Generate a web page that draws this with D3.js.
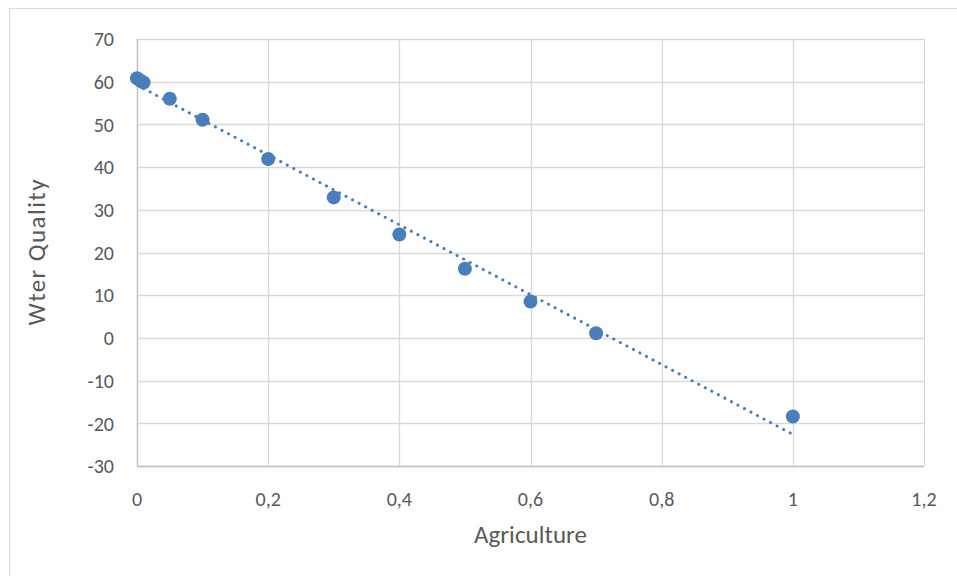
<!DOCTYPE html>
<html>
<head>
<meta charset="utf-8">
<script src="https://cdn.jsdelivr.net/npm/d3@7"></script>
<style>
  html, body { margin: 0; padding: 0; background: #fff; }
  svg { display: block; }
  text { font-family: Carlito, Calibri, Lato, "Open Sans", "Liberation Sans", sans-serif; fill: #595959; }
</style>
</head>
<body>
<svg id="chart" width="957" height="576"></svg>
<script>
const agriculture = [0, 0.005, 0.01, 0.05, 0.1, 0.2, 0.3, 0.4, 0.5, 0.6, 0.7, 1];
const waterQuality = [60.8, 60.3, 59.8, 56.0, 51.1, 41.9, 32.9, 24.2, 16.2, 8.5, 1.1, -18.4];
const xTicks = [0, 0.2, 0.4, 0.6, 0.8, 1, 1.2];
const yTicks = [-30, -20, -10, 0, 10, 20, 30, 40, 50, 60, 70];
const xTitle = "Agriculture";
const yTitle = "Wter Quality";

(function () {
const svg = d3.select("#chart");
const W = 957, H = 576;
const pL = 137, pR = 924, pT = 39, pB = 466;

// outer chart border
svg.append("rect").attr("x", 9.5).attr("y", 8.5).attr("width", W + 10).attr("height", H + 10)
  .attr("fill", "#fff").attr("stroke", "#d9d9d9").attr("stroke-width", 1);

const x = d3.scaleLinear().domain([0, 1.2]).range([pL, pR]);
const y = d3.scaleLinear().domain([-30, 70]).range([pB, pT]);

const fmt = d => String(+d.toFixed(1)).replace(".", ",");

// gridlines
const g = svg.append("g");
g.selectAll(".hg").data(yTicks).join("line")
  .attr("x1", pL).attr("x2", pR)
  .attr("y1", d => Math.round(y(d)) + 0.5).attr("y2", d => Math.round(y(d)) + 0.5)
  .attr("stroke", "#d9d9d9").attr("stroke-width", 1.3);
g.selectAll(".vg").data(xTicks).join("line")
  .attr("y1", pT).attr("y2", pB)
  .attr("x1", d => Math.round(x(d)) + 0.5).attr("x2", d => Math.round(x(d)) + 0.5)
  .attr("stroke", "#d9d9d9").attr("stroke-width", 1.3);
// axis lines
svg.append("line").attr("x1", pL + 0.5).attr("x2", pL + 0.5).attr("y1", pT).attr("y2", pB + 0.5)
  .attr("stroke", "#bfbfbf").attr("stroke-width", 1.3);
svg.append("line").attr("x1", pL).attr("x2", pR).attr("y1", Math.round(y(-30)) + 0.5).attr("y2", Math.round(y(-30)) + 0.5)
  .attr("stroke", "#bfbfbf").attr("stroke-width", 1.3);

// tick labels
svg.selectAll(".yl").data(yTicks).join("text")
  .attr("x", 114).attr("y", d => y(d)).attr("dy", "0.36em")
  .attr("text-anchor", "end").attr("font-size", 20).text(d => d);
svg.selectAll(".xl").data(xTicks).join("text")
  .attr("x", d => x(d)).attr("y", 506)
  .attr("text-anchor", "middle").attr("font-size", 20).text(fmt);

// axis titles
svg.append("text").attr("x", (pL + pR) / 2).attr("y", 543)
  .attr("text-anchor", "middle").attr("font-size", 25)
  .attr("textLength", 113).attr("lengthAdjust", "spacing").text(xTitle);
svg.append("text").attr("transform", `translate(45,${(pT + pB) / 2}) rotate(-90)`)
  .attr("text-anchor", "middle").attr("font-size", 25)
  .attr("textLength", 146).attr("lengthAdjust", "spacing").text(yTitle);

// linear trendline (least squares)
const n = agriculture.length;
const mx = d3.mean(agriculture), my = d3.mean(waterQuality);
let sxy = 0, sxx = 0;
for (let i = 0; i < n; i++) { sxy += (agriculture[i] - mx) * (waterQuality[i] - my); sxx += (agriculture[i] - mx) ** 2; }
const slope = sxy / sxx, intercept = my - slope * mx;
const xr = d3.extent(agriculture);
svg.append("line")
  .attr("x1", x(xr[0])).attr("y1", y(intercept + slope * xr[0]))
  .attr("x2", x(xr[1])).attr("y2", y(intercept + slope * xr[1]))
  .attr("stroke", "#4a7ebb").attr("stroke-width", 3)
  .attr("stroke-linecap", "round").attr("stroke-dasharray", "0.1 7.3");

// points
svg.selectAll(".pt").data(agriculture).join("circle")
  .attr("cx", d => x(d)).attr("cy", (d, i) => y(waterQuality[i])).attr("r", 7)
  .attr("fill", "#4a7ebb");
})();
</script>
</body>
</html>
